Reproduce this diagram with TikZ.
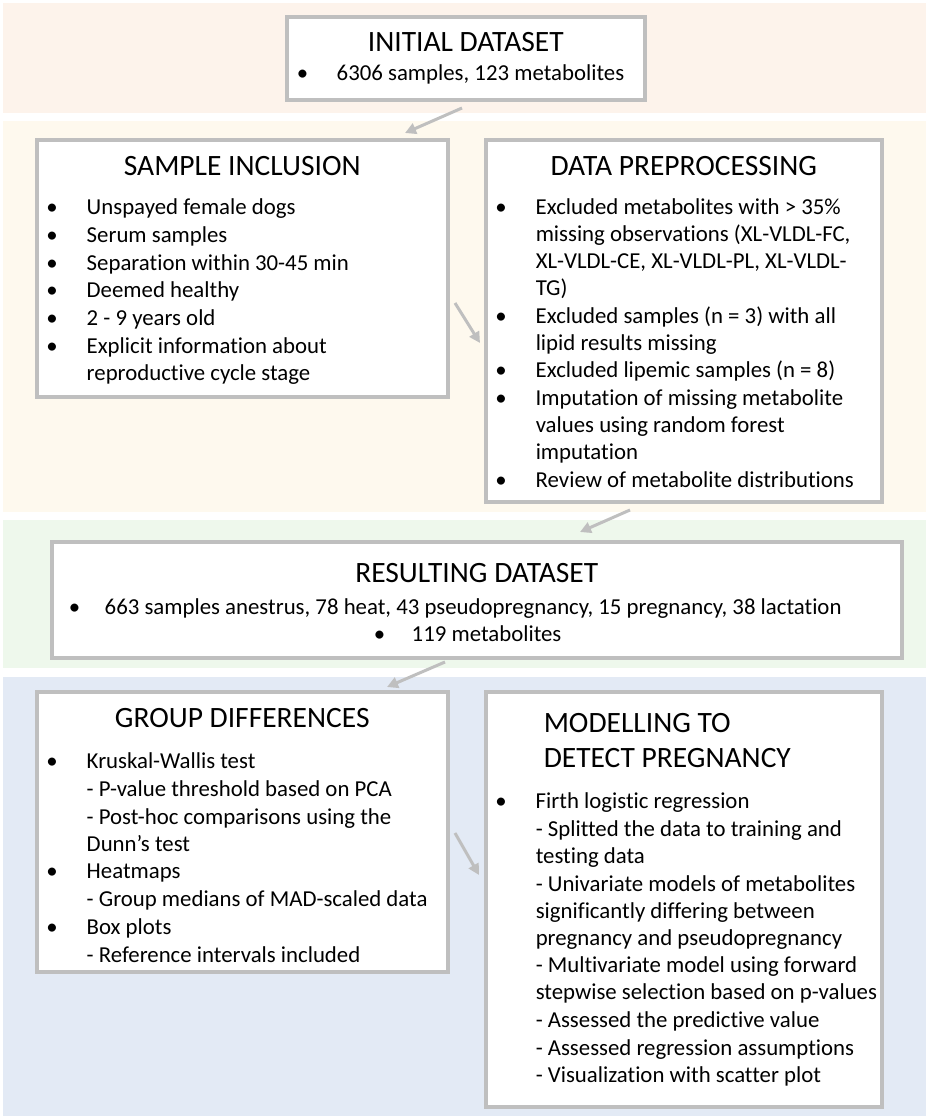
\documentclass[tikz,border=0pt]{standalone}
\usepackage{fontspec}
\setmainfont{Carlito}[Ligatures=CommonOff]
\usetikzlibrary{arrows.meta}
\definecolor{bandpeach}{HTML}{FDF3EB}
\definecolor{bandyellow}{HTML}{FEF9EE}
\definecolor{bandgreen}{HTML}{EEF8EC}
\definecolor{bandblue}{HTML}{E3EAF5}
\definecolor{framegray}{HTML}{BFBFBF}
\newlength{\txtin}
\newlength{\bulsep}
\newcommand{\titlefont}{\fontsize{29.5}{35}\selectfont}
\newcommand{\bodyfont}{\fontsize{22.8}{26.9}\selectfont}
\newcommand{\bitem}[1]{\par\leftskip=\txtin\noindent\llap{\textbullet\hspace{\bulsep}}#1}
\newcommand{\sitem}[1]{\par\leftskip=\txtin\noindent #1}
\newcommand{\panelbox}[3]{\begin{minipage}[t][#2][t]{#1}\raggedright\bodyfont\parskip=0.8pt\relax #3\end{minipage}}
\tikzset{
  panel/.style={draw=framegray,line width=3.5pt,fill=white,inner sep=0pt,anchor=north west},
  flow/.style={draw=framegray,line width=3pt,-{Triangle[length=11pt,width=11pt]}}
}
\begin{document}
\begin{tikzpicture}[x=1pt,y=-1pt]
\useasboundingbox (0,0) rectangle (935,1120);
\fill[bandpeach] (3,3) rectangle (926,113);
\fill[bandyellow] (3,121) rectangle (926,512);
\fill[bandgreen] (3,520) rectangle (926,668);
\fill[bandblue] (3,677) rectangle (926,1116);
\node[panel] (init) at (285,15) {\panelbox{358pt}{83pt}{%
  \setlength{\txtin}{50pt}\setlength{\bulsep}{28.4pt}
  \vspace*{16pt}{\centering\titlefont INITIAL DATASET\par}\vspace{1.3pt}
  \bitem{6306 samples, 123 metabolites}}};
\node[panel] (incl) at (35,138) {\panelbox{411pt}{257pt}{%
  \setlength{\txtin}{50pt}\setlength{\bulsep}{29pt}
  \vspace*{17pt}{\centering\titlefont SAMPLE INCLUSION\par}\vspace{11.3pt}
  \bitem{Unspayed female dogs}
  \bitem{Serum samples}
  \bitem{Separation within 30-45 min}
  \bitem{Deemed healthy}
  \bitem{2 - 9 years old}
  \bitem{Explicit information about\newline reproductive cycle stage}}};
\node[panel] (prep) at (484,138) {\panelbox{396pt}{362pt}{%
  \setlength{\txtin}{50pt}\setlength{\bulsep}{29pt}
  \vspace*{17pt}{\centering\titlefont DATA PREPROCESSING\par}\vspace{11.3pt}
  \bitem{Excluded metabolites with > 35\%\newline missing observations (XL-VLDL-FC,\newline XL-VLDL-CE, XL-VLDL-PL, XL-VLDL-\newline TG)}
  \bitem{Excluded samples (n = 3) with all\newline lipid results missing}
  \bitem{Excluded lipemic samples (n = 8)}
  \bitem{Imputation of missing metabolite\newline values using random forest\newline imputation}
  \bitem{Review of metabolite distributions}}};
\node[panel] (result) at (50,540) {\panelbox{850pt}{116pt}{%
  \vspace*{22pt}{\centering\titlefont RESULTING DATASET\par}\vspace{4.3pt}
  \setlength{\txtin}{53pt}\setlength{\bulsep}{24.4pt}
  \bitem{663 samples anestrus, 78 heat, 43 pseudopregnancy, 15 pregnancy, 38 lactation}\vspace{-0.8pt}
  \setlength{\txtin}{360pt}\setlength{\bulsep}{26.4pt}
  \bitem{119 metabolites}}};
\node[panel] (groups) at (35,690) {\panelbox{411pt}{280pt}{%
  \setlength{\txtin}{50pt}\setlength{\bulsep}{29pt}
  \vspace*{17pt}{\centering\titlefont GROUP DIFFERENCES\par}\vspace{13.3pt}
  \bitem{Kruskal-Wallis test}
  \sitem{- P-value threshold based on PCA}
  \sitem{- Post-hoc comparisons using the\newline Dunn's test}
  \bitem{Heatmaps}
  \sitem{- Group medians of MAD-scaled data}
  \bitem{Box plots}
  \sitem{- Reference intervals included}}};
\node[panel] (model) at (484,690) {\panelbox{396pt}{415pt}{%
  \setlength{\txtin}{50pt}\setlength{\bulsep}{29pt}
  \vspace*{22pt}{\leftskip=58pt\titlefont MODELLING TO\newline DETECT PREGNANCY\par}\vspace{13.3pt}
  \bitem{Firth logistic regression}
  \sitem{- Splitted the data to training and\newline testing data}
  \sitem{- Univariate models of metabolites\newline significantly differing between\newline pregnancy and pseudopregnancy}
  \sitem{- Multivariate model using forward\newline stepwise selection based on p-values}
  \sitem{- Assessed the predictive value}
  \sitem{- Assessed regression assumptions}
  \sitem{- Visualization with scatter plot}}};
\coordinate (a1s) at (462,108);
\coordinate (a1e) at (405,133);
\coordinate (a2s) at (455,303);
\coordinate (a2e) at (480,343);
\coordinate (a3s) at (630,510);
\coordinate (a3e) at (580,532);
\coordinate (a4s) at (445,662);
\coordinate (a4e) at (387,687);
\coordinate (a5s) at (455,833);
\coordinate (a5e) at (479,875);
\draw[flow] (a1s) -- (a1e);
\draw[flow] (a2s) -- (a2e);
\draw[flow] (a3s) -- (a3e);
\draw[flow] (a4s) -- (a4e);
\draw[flow] (a5s) -- (a5e);
\end{tikzpicture}
\end{document}
